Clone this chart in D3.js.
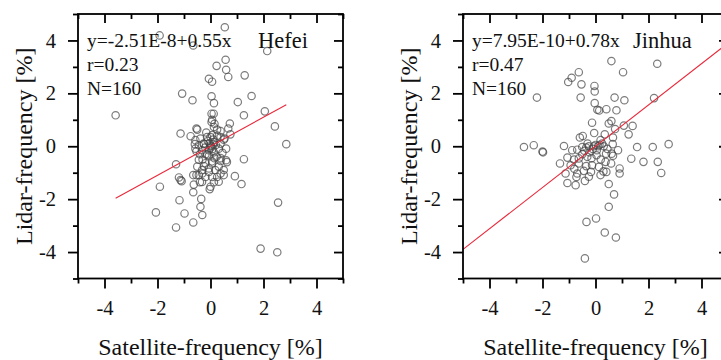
<!DOCTYPE html>
<html>
<head>
<meta charset="utf-8">
<script src="https://cdn.jsdelivr.net/npm/d3@7"></script>
<style>
  body { margin: 0; background: #fff; }
  text { font-family: "Liberation Serif", "Times New Roman", serif; fill: #111; }
</style>
</head>
<body>
<svg id="chart" width="721" height="360"></svg>
<script>
// axis ticks
const majorTicks = [-4, -2, 0, 2, 4];
const minorTicks = [-5, -3, -1, 1, 3, 5];

// Hefei: satellite vs lidar frequency anomalies [%]
const hefeiSat = [
  -1.92, -0.65, 0.54, 2.14, 0.57, 0.23, 0.59, 0.67, 1.29, -0.06,
  0.06, -1.07, -0.68, 0.04, 0.13, 1.03, 1.55, -3.58, 0.04, 0.12,
  1.26, 2.05, 0.04, 0.15, 0.13, 0.73, 0.67, 2.43, -0.53, -1.13,
  -0.75, -0.16, -0.38, 0.00, 0.38, 0.53, 0.25, -0.59, -0.25, 0.11,
  0.00, 0.59, 2.86, -0.53, -0.13, 0.23, 1.26, -0.30, -1.30, 0.06,
  0.38, 0.59, -1.19, -1.09, -0.65, -0.53, -0.31, -0.06, 0.38, 0.50,
  0.92, -1.91, -0.63, -0.40, 0.13, 1.17, -0.65, -0.03, -1.17, -0.35,
  2.55, -2.06, -0.98, -0.38, -0.31, -0.65, -1.30, 1.89, 2.52, 0.06,
  0.13, 0.00, -0.06, -0.57, -0.44, -0.26, 0.38, 0.50, 0.38, 0.31,
  -0.57, -0.32, 0.13, -0.06, 0.38, -0.44, -0.19, 0.06, 0.31, 0.62,
  -0.50, -0.32, -0.06, 0.18, 0.50, -0.44, -0.19, 0.06, 0.25, -1.13,
  0.00, 0.31, -0.32, -0.13, -0.50, 0.75, 0.06, -0.19, 0.02, -0.04,
  0.08, 0.10, -0.10, 0.20, -0.20, 0.15, -0.25, 0.45, -0.40, 0.25
];
const hefeiLidar = [
  4.19, 3.81, 4.50, 3.60, 3.27, 3.04, 2.89, 2.62, 2.68, 2.55,
  2.44, 1.99, 1.74, 1.89, 1.63, 1.67, 1.90, 1.17, 1.23, 1.23,
  1.17, 1.32, 0.92, 0.85, 0.73, 0.86, 0.67, 0.75, 0.67, 0.48,
  0.38, 0.52, 0.29, 0.35, 0.57, 0.29, 0.63, 0.08, 0.08, 0.08,
  -0.06, -0.09, 0.08, -0.19, -0.32, -0.40, -0.49, -0.50, -0.68, -0.65,
  -0.56, -0.53, -1.18, -1.32, -1.09, -1.09, -1.03, -0.97, -1.03, -1.09,
  -1.13, -1.53, -1.45, -1.36, -1.36, -1.43, -1.74, -1.62, -2.04, -1.99,
  -2.13, -2.50, -2.54, -2.29, -2.60, -2.88, -3.07, -3.87, -4.01, 0.42,
  0.16, 0.04, -0.15, 0.23, 0.04, 0.10, 0.35, 0.25, 0.10, -0.09,
  -0.09, -0.15, -0.23, -0.36, -0.45, -0.51, -0.64, -0.57, -0.77, -0.60,
  -0.77, -0.90, -0.84, -0.90, -0.90, -1.09, -1.16, -1.16, -1.16, -1.28,
  -1.53, -1.34, -1.35, 0.35, 0.63, 0.45, 1.00, -0.30, 0.00, 0.12,
  -0.10, 0.25, 0.20, 0.05, -0.05, -0.45, -0.75, -0.25, -0.30, 0.40
];

// Jinhua: satellite vs lidar frequency anomalies [%]
const jinhuaSat = [
  0.60, 2.33, -0.63, 1.04, -0.90, -1.03, -0.53, -0.04, -0.03, -2.21,
  -0.56, 0.72, 1.09, 2.21, -0.03, 0.07, 0.14, 0.41, 0.79, -0.13,
  0.50, 1.07, 1.40, 0.74, 1.25, 0.66, -0.59, -0.48, 0.19, -2.70,
  -2.33, -2.00, -1.98, -1.19, -0.50, -0.25, -0.06, 0.10, 0.31, 0.65,
  1.57, 2.16, 2.76, -0.88, -0.69, -0.42, -0.23, 0.04, 0.40, 0.61,
  0.66, -1.06, -0.81, -0.63, -0.31, 1.35, 1.81, 2.35, -1.34, -0.94,
  -0.63, -0.35, -0.13, 0.13, 0.38, 0.59, 0.91, 0.91, 2.48, -1.13,
  -0.69, -0.72, -0.44, -0.40, -0.17, 0.19, 0.41, -1.06, -0.75, 0.50,
  0.70, 0.50, -0.34, 0.02, 0.35, 0.77, -0.40, 0.00, 0.15, 0.25,
  -0.10, 0.05, -0.35, -0.15, 0.20, -0.50, 0.35, -0.05, 0.85, -0.80,
  0.30, -0.25, 0.60, -0.30, 0.45
];
const jinhuaLidar = [
  3.22, 3.12, 2.80, 2.80, 2.59, 2.43, 2.34, 2.28, 2.07, 1.84,
  1.84, 1.84, 1.74, 1.82, 1.63, 1.38, 1.35, 1.40, 1.36, 0.89,
  0.86, 0.78, 0.77, 0.65, 0.45, 0.33, 0.33, 0.39, 0.23, -0.03,
  0.04, -0.20, -0.23, 0.01, -0.03, 0.00, 0.00, 0.00, 0.00, 0.08,
  -0.03, -0.03, 0.08, -0.15, -0.13, -0.17, -0.23, -0.34, -0.28, -0.28,
  -0.36, -0.43, -0.50, -0.46, -0.40, -0.47, -0.59, -0.59, -0.65, -0.72,
  -0.65, -0.75, -0.72, -0.78, -0.59, -0.65, -0.84, -1.03, -1.01, -1.03,
  -1.03, -1.16, -0.93, -1.31, -0.97, -1.09, -0.97, -1.39, -1.47, -1.43,
  -1.82, -2.29, -2.86, -2.73, -3.26, -3.45, -4.24, 0.05, 0.05, 0.10,
  -0.10, -0.15, -0.05, -0.45, -0.50, -0.30, 0.45, 0.50, -0.15, -0.85,
  -0.95, -1.15, 0.95, 0.10, -0.10
];

const panels = [
  { left: 78, sat: hefeiSat, lidar: hefeiLidar, a: -2.51e-8, b: 0.55, fullLine: false,
    eq: "y=-2.51E-8+0.55x", r: "r=0.23", n: "N=160", site: "Hefei", siteX: 180 },
  { left: 463, sat: jinhuaSat, lidar: jinhuaLidar, a: 7.95e-10, b: 0.78, fullLine: true,
    eq: "y=7.95E-10+0.78x", r: "r=0.47", n: "N=160", site: "Jinhua", siteX: 170 }
];

const plotTop = 14, width = 265, height = 264.5;
const svg = d3.select("#chart");

panels.forEach((p, i) => {
  const g = svg.append("g").attr("transform", "translate(" + p.left + "," + plotTop + ")");
  const x = d3.scaleLinear().domain([-5, 5]).range([0, width]);
  const y = d3.scaleLinear().domain([-5, 5]).range([height, 0]);
  const fmt = d => String(d);

  g.append("clipPath").attr("id", "clip" + i)
    .append("rect").attr("width", width).attr("height", height);

  // points
  const pts = p.sat.map((s, k) => [s, p.lidar[k]]);
  g.append("g").attr("clip-path", "url(#clip" + i + ")")
    .selectAll("circle")
    .data(pts)
    .enter().append("circle")
    .attr("cx", d => x(d[0]))
    .attr("cy", d => y(d[1]))
    .attr("r", 3.7)
    .attr("fill", "none")
    .attr("stroke", "#444")
    .attr("stroke-opacity", 0.7)
    .attr("stroke-width", 1.2);

  // fit line
  const x0 = p.fullLine ? -5 : d3.min(p.sat);
  const x1 = p.fullLine ? 5 : d3.max(p.sat);
  g.append("line")
    .attr("clip-path", "url(#clip" + i + ")")
    .attr("x1", x(x0)).attr("y1", y(p.a + p.b * x0))
    .attr("x2", x(x1)).attr("y2", y(p.a + p.b * x1))
    .attr("stroke", "#e8283a")
    .attr("stroke-width", 1.1);

  // axes: major + minor ticks, mirrored inside on top/right
  const axes = [
    [d3.axisBottom(x), "translate(0," + height + ")", 10, 5, true],
    [d3.axisLeft(y), null, 10, 5, true],
    [d3.axisTop(x), null, -9, -5, false],
    [d3.axisRight(y), "translate(" + width + ",0)", -9, -5, false]
  ];
  axes.forEach(([ax, tr, major, minor, labels]) => {
    const a1 = g.append("g").attr("transform", tr)
      .call(ax.tickValues(majorTicks).tickSize(major).tickPadding(labels ? 12 : 0)
        .tickFormat(labels ? fmt : () => ""));
    a1.select(".domain").remove();
    a1.selectAll("line").attr("stroke", "#000").attr("stroke-width", 1.8);
    a1.selectAll("text").attr("font-size", 20.5)
      .style("font-family", '"Liberation Serif", serif').attr("fill", "#111");

    const a2 = g.append("g").attr("transform", tr)
      .call(ax.tickValues(minorTicks).tickSize(minor).tickFormat(() => ""));
    a2.select(".domain").remove();
    a2.selectAll("line").attr("stroke", "#000").attr("stroke-width", 1.8);
  });

  g.append("rect")
    .attr("width", width).attr("height", height)
    .attr("fill", "none").attr("stroke", "#000").attr("stroke-width", 1.8);

  // annotations
  g.append("text").attr("x", 9).attr("y", 47 - plotTop).attr("font-size", 19.5).text(p.eq);
  g.append("text").attr("x", 9).attr("y", 71 - plotTop).attr("font-size", 19.5).text(p.r);
  g.append("text").attr("x", 9).attr("y", 95 - plotTop).attr("font-size", 19.5).text(p.n);
  g.append("text").attr("x", p.siteX).attr("y", 48 - plotTop).attr("font-size", 22.5).text(p.site);

  // axis titles
  g.append("text")
    .attr("transform", "translate(-46," + height / 2 + ") rotate(-90)")
    .attr("text-anchor", "middle").attr("font-size", 24)
    .text("Lidar-frequency [%]");
  g.append("text")
    .attr("x", width / 2).attr("y", 355 - plotTop)
    .attr("text-anchor", "middle").attr("font-size", 24)
    .text("Satellite-frequency [%]");
});
</script>
</body>
</html>
